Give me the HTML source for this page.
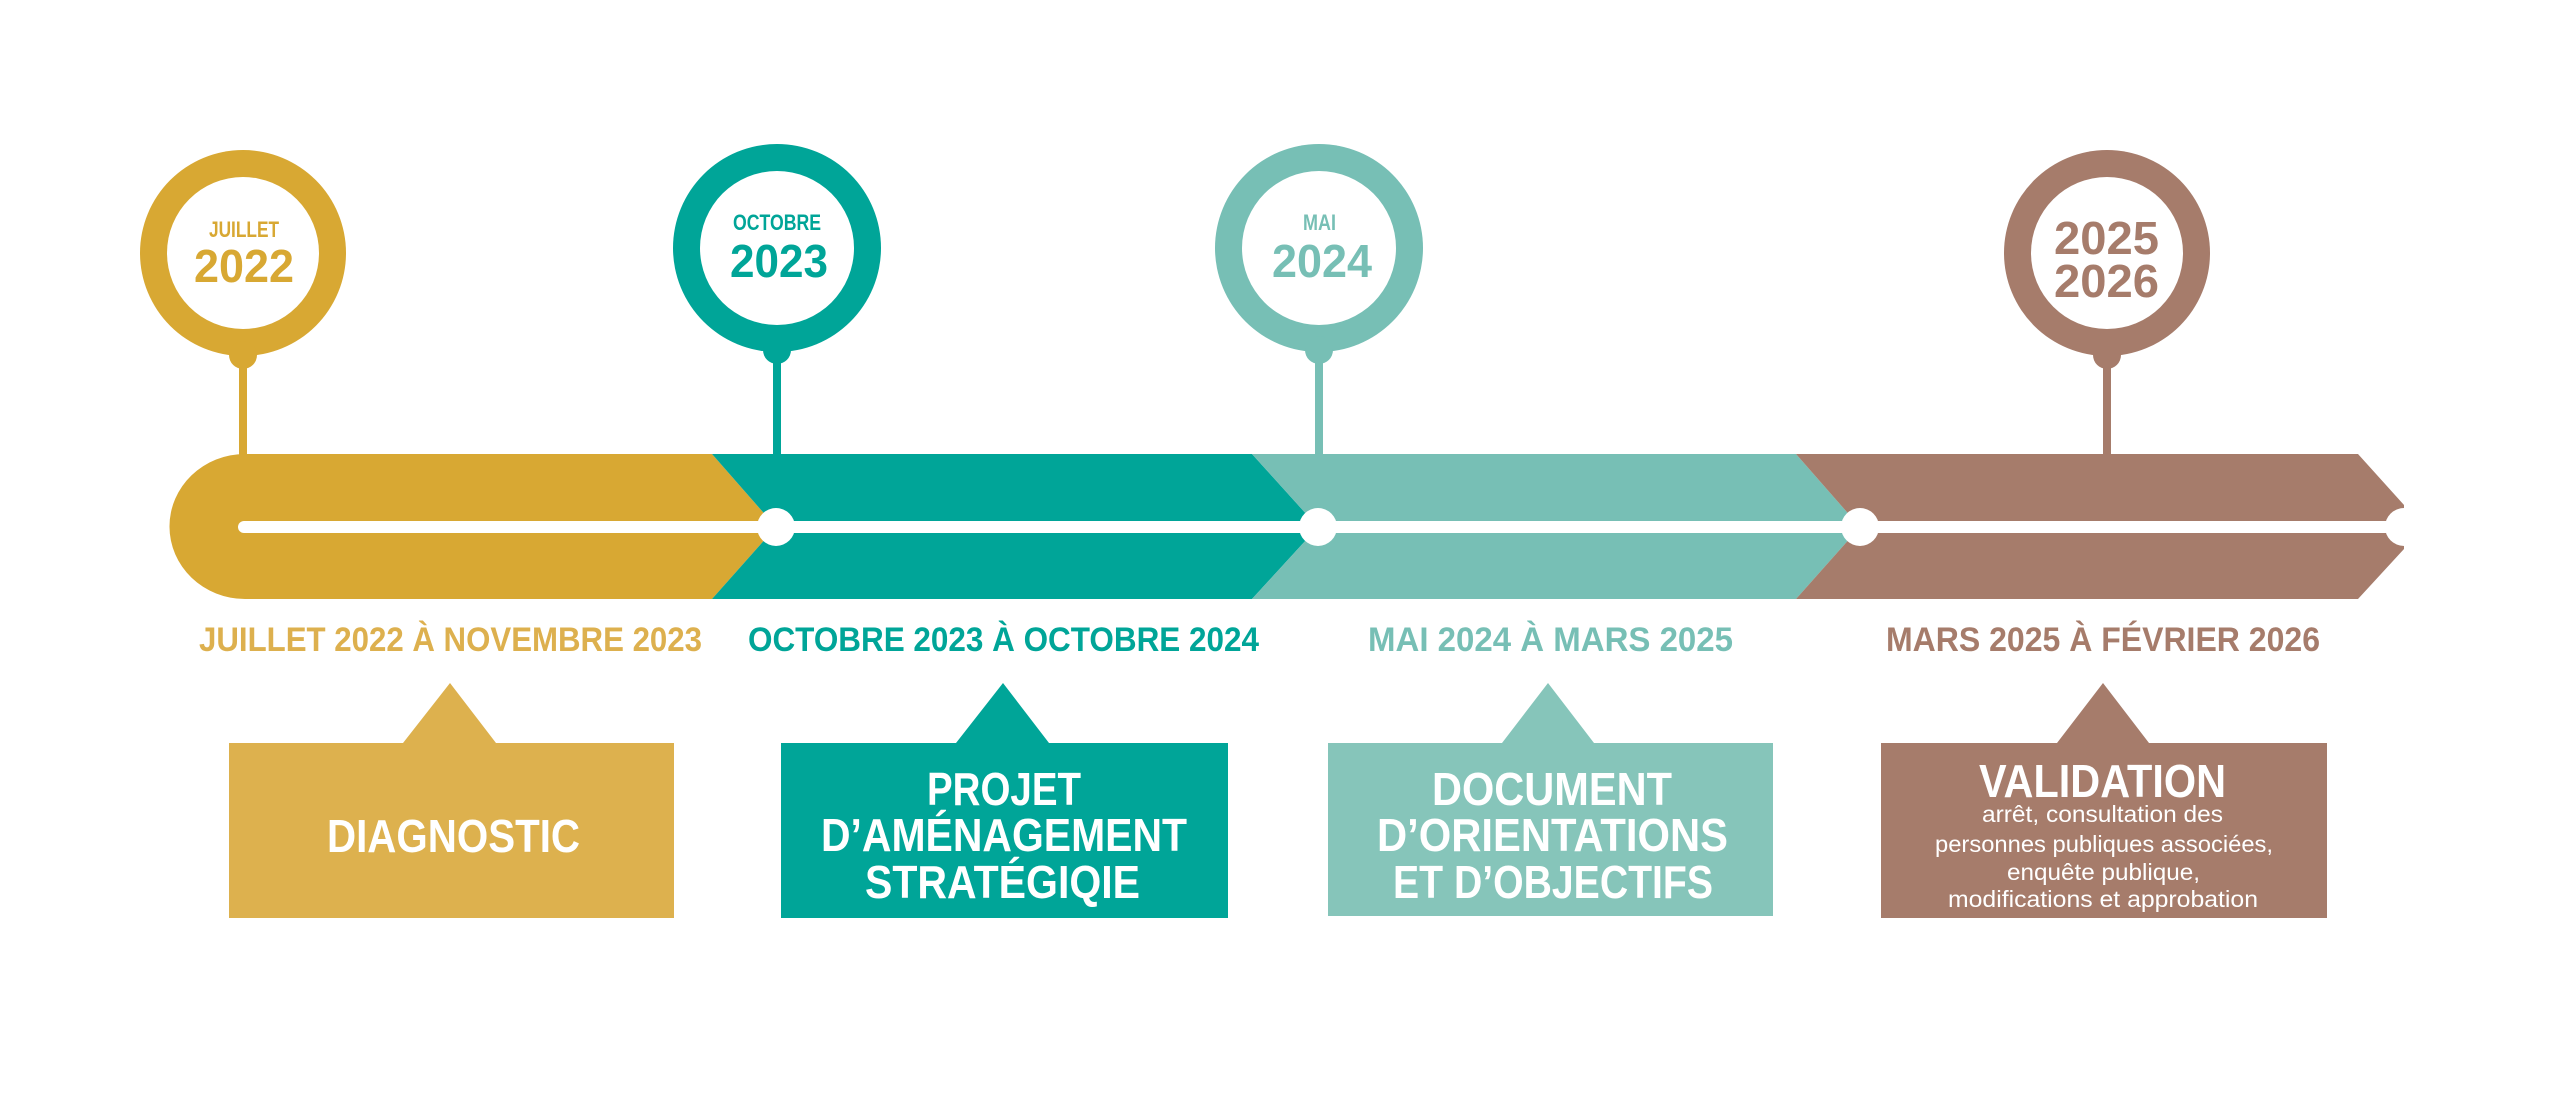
<!DOCTYPE html>
<html><head><meta charset="utf-8"><style>
html,body{margin:0;padding:0;background:#fff;}
svg{display:block}
text{font-family:"Liberation Sans",sans-serif;font-weight:bold;}
text.n{font-weight:normal;}
</style></head><body>
<svg width="2560" height="1100" viewBox="0 0 2560 1100" xmlns="http://www.w3.org/2000/svg">
<path d="M245 454 H712 L776 527 L712 599 H245 A75 72 0 0 1 245 454 Z" fill="#D8A833"/>
<path d="M712 454 H1252 L1318 527 L1252 599 H712 L776 527 Z" fill="#00A598"/>
<path d="M1252 454 H1796 L1860 527 L1796 599 H1252 L1318 527 Z" fill="#77BFB5"/>
<path d="M1796 454 H2358 L2404 505 V549 L2358 599 H1796 L1860 527 Z" fill="#A67C6B"/>
<rect x="238" y="521" width="2166" height="12" rx="6" fill="#fff"/>
<circle cx="776" cy="527" r="19" fill="#fff"/>
<circle cx="1318" cy="527" r="19" fill="#fff"/>
<circle cx="1860" cy="527" r="19" fill="#fff"/>
<circle cx="2404" cy="527" r="19" fill="#fff"/>
<g fill="#D8A833"><circle cx="243" cy="253" r="103"/><circle cx="243" cy="355" r="14"/><rect x="239" y="355" width="8" height="100"/></g>
<circle cx="243" cy="253" r="76" fill="#fff"/>
<g fill="#00A598"><circle cx="777" cy="248" r="104"/><circle cx="777" cy="350" r="14"/><rect x="773" y="350" width="8" height="105"/></g>
<circle cx="777" cy="248" r="77" fill="#fff"/>
<g fill="#77BFB5"><circle cx="1319" cy="248" r="104"/><circle cx="1319" cy="350" r="14"/><rect x="1315" y="350" width="8" height="105"/></g>
<circle cx="1319" cy="248" r="77" fill="#fff"/>
<g fill="#A67C6B"><circle cx="2107" cy="253" r="103"/><circle cx="2107" cy="355" r="14"/><rect x="2103" y="355" width="8" height="100"/></g>
<circle cx="2107" cy="253" r="76" fill="#fff"/>
<text x="209" y="237" font-size="22" fill="#D8A833" textLength="70" lengthAdjust="spacingAndGlyphs">JUILLET</text>
<text x="194" y="282" font-size="46" fill="#D8A833" textLength="100" lengthAdjust="spacingAndGlyphs">2022</text>
<text x="733" y="230" font-size="22" fill="#00A598" textLength="88" lengthAdjust="spacingAndGlyphs">OCTOBRE</text>
<text x="730" y="277" font-size="46" fill="#00A598" textLength="98" lengthAdjust="spacingAndGlyphs">2023</text>
<text x="1303" y="230" font-size="22" fill="#77BFB5" textLength="33" lengthAdjust="spacingAndGlyphs">MAI</text>
<text x="1272" y="277" font-size="46" fill="#77BFB5" textLength="100" lengthAdjust="spacingAndGlyphs">2024</text>
<text x="2054" y="254" font-size="46" fill="#A67C6B" textLength="105" lengthAdjust="spacingAndGlyphs">2025</text>
<text x="2054" y="297" font-size="46" fill="#A67C6B" textLength="105" lengthAdjust="spacingAndGlyphs">2026</text>
<text x="199" y="651" font-size="34" fill="#DDB04E" textLength="503" lengthAdjust="spacingAndGlyphs">JUILLET 2022 À NOVEMBRE 2023</text>
<text x="748" y="651" font-size="34" fill="#00A598" textLength="511" lengthAdjust="spacingAndGlyphs">OCTOBRE 2023 À OCTOBRE 2024</text>
<text x="1368" y="651" font-size="34" fill="#77BFB5" textLength="365" lengthAdjust="spacingAndGlyphs">MAI 2024 À MARS 2025</text>
<text x="1886" y="651" font-size="34" fill="#A67C6B" textLength="434" lengthAdjust="spacingAndGlyphs">MARS 2025 À FÉVRIER 2026</text>
<path d="M229 743 H403 L450 683 L496 743 H674 V918 H229 Z" fill="#DDB14E"/>
<path d="M781 743 H956 L1003 683 L1049 743 H1228 V918 H781 Z" fill="#00A598"/>
<path d="M1328 743 H1502 L1548 683 L1594 743 H1773 V916 H1328 Z" fill="#86C5BA"/>
<path d="M1881 743 H2057 L2103 683 L2149 743 H2327 V918 H1881 Z" fill="#A67C6B"/>
<g fill="#fff">
<text x="327" y="852" font-size="46" textLength="253" lengthAdjust="spacingAndGlyphs">DIAGNOSTIC</text>
<text x="927" y="805" font-size="46" textLength="154" lengthAdjust="spacingAndGlyphs">PROJET</text>
<text x="821" y="851" font-size="46" textLength="366" lengthAdjust="spacingAndGlyphs">D’AMÉNAGEMENT</text>
<text x="865" y="898" font-size="46" textLength="275" lengthAdjust="spacingAndGlyphs">STRATÉGIQIE</text>
<text x="1432" y="805" font-size="46" textLength="240" lengthAdjust="spacingAndGlyphs">DOCUMENT</text>
<text x="1377" y="851" font-size="46" textLength="351" lengthAdjust="spacingAndGlyphs">D’ORIENTATIONS</text>
<text x="1393" y="898" font-size="46" textLength="320" lengthAdjust="spacingAndGlyphs">ET D’OBJECTIFS</text>
<text x="1979" y="797" font-size="46" textLength="247" lengthAdjust="spacingAndGlyphs">VALIDATION</text>
<text class="n" x="1982" y="822" font-size="23" textLength="241" lengthAdjust="spacingAndGlyphs">arrêt, consultation des</text>
<text class="n" x="1935" y="852" font-size="23" textLength="338" lengthAdjust="spacingAndGlyphs">personnes publiques associées,</text>
<text class="n" x="2007" y="880" font-size="23" textLength="193" lengthAdjust="spacingAndGlyphs">enquête publique,</text>
<text class="n" x="1948" y="907" font-size="23" textLength="310" lengthAdjust="spacingAndGlyphs">modifications et approbation</text>
</g>
</svg>
</body></html>
